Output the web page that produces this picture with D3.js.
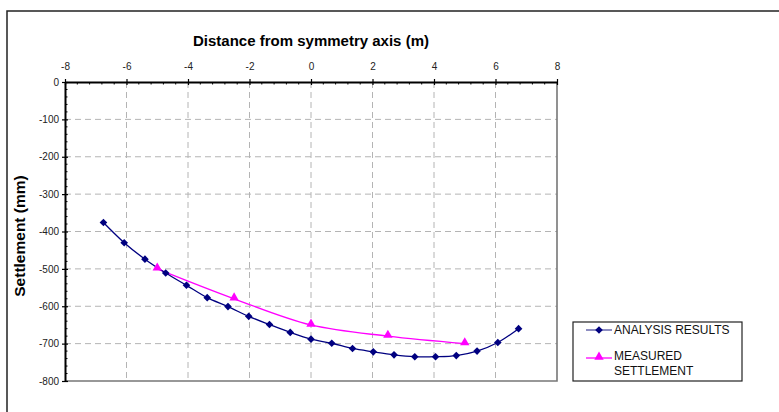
<!DOCTYPE html>
<html>
<head>
<meta charset="utf-8">
<script src="https://cdn.jsdelivr.net/npm/d3@7"></script>
<style>
  body { margin: 0; background: #fff; }
  svg { display: block; font-family: "Liberation Sans", Arial, sans-serif; }
</style>
</head>
<body>
<div id="chart"></div>
<script>
// analysis results (smoothed curve, diamonds)
var analysisX = [-6.75, -6.075, -5.4, -4.725, -4.05, -3.375, -2.7, -2.025, -1.35, -0.675, 0,
                 0.675, 1.35, 2.025, 2.7, 3.375, 4.05, 4.725, 5.4, 6.075, 6.75];
var analysisY = [-376, -430, -474, -511, -544, -577, -601, -627, -649, -670, -688,
                 -699, -713, -722, -730, -735, -735, -732, -720, -697, -660];
// measured settlement (triangles)
var measuredX = [-5, -2.5, 0, 2.5, 5];
var measuredY = [-500, -580, -650, -680, -700];

var xTicks = [-8, -6, -4, -2, 0, 2, 4, 6, 8];
var yTicks = [0, -100, -200, -300, -400, -500, -600, -700, -800];
var legendLabels = [["ANALYSIS RESULTS"], ["MEASURED", "SETTLEMENT"]];

var width = 779, height = 412;
var plotLeft = 65, plotRight = 557, plotTop = 82, plotBottom = 381;

var svg = d3.select("#chart").append("svg")
  .attr("width", width)
  .attr("height", height);

// outer chart border (runs off the page to the right and bottom)
svg.append("rect")
  .attr("x", 7).attr("y", 11)
  .attr("width", 820).attr("height", 450)
  .attr("fill", "none").attr("stroke", "#222").attr("stroke-width", 1.5);

var x = d3.scaleLinear().domain([-8, 8]).range([plotLeft, plotRight]);
var y = d3.scaleLinear().domain([0, -800]).range([plotTop, plotBottom]);

// gridlines
var grid = svg.append("g").attr("class", "grid")
  .attr("stroke", "#b4b4b4").attr("stroke-dasharray", "6,4");
grid.selectAll("line.gx").data(xTicks.slice(1, -1)).enter().append("line")
  .attr("x1", function(d) { return x(d); }).attr("x2", function(d) { return x(d); })
  .attr("y1", plotTop).attr("y2", plotBottom);
grid.selectAll("line.gy").data(yTicks.slice(1, -1)).enter().append("line")
  .attr("y1", function(d) { return y(d); }).attr("y2", function(d) { return y(d); })
  .attr("x1", plotLeft).attr("x2", plotRight);

// right + bottom plot frame (grey)
svg.append("path")
  .attr("d", "M" + plotRight + "," + plotTop + "V" + plotBottom + "H" + plotLeft)
  .attr("fill", "none").attr("stroke", "#777").attr("stroke-width", 1.6);

// minor ticks
var minorX = d3.range(-8, 8.01, 0.4).filter(function(v) { return Math.abs(v / 2 - Math.round(v / 2)) > 0.01; });
svg.append("g").selectAll("line").data(minorX).enter().append("line")
  .attr("x1", function(d) { return x(d); }).attr("x2", function(d) { return x(d); })
  .attr("y1", plotTop).attr("y2", plotTop + 2.5)
  .attr("stroke", "#000");
var minorY = d3.range(0, -801, -20).filter(function(v) { return v % 100 !== 0; });
svg.append("g").selectAll("line").data(minorY).enter().append("line")
  .attr("y1", function(d) { return y(d); }).attr("y2", function(d) { return y(d); })
  .attr("x1", plotLeft).attr("x2", plotLeft + 2.5)
  .attr("stroke", "#000");

// axes (plain hyphen for negatives, like the original)
var fmt = function(d) { return String(d); };
var xAxis = svg.append("g")
  .attr("transform", "translate(0," + plotTop + ")")
  .call(d3.axisTop(x).tickValues(xTicks).tickFormat(fmt).tickSize(3).tickSizeOuter(0));
var yAxis = svg.append("g")
  .attr("transform", "translate(" + plotLeft + ",0)")
  .call(d3.axisLeft(y).tickValues(yTicks).tickFormat(fmt).tickSize(3).tickSizeOuter(0));

[xAxis, yAxis].forEach(function(a) {
  a.select(".domain").attr("stroke", "#000").attr("stroke-width", 2);
  a.selectAll(".tick line").attr("stroke", "#000").attr("stroke-width", 1.2);
  a.selectAll(".tick text").attr("fill", "#222")
    .style("font-family", "'Liberation Sans', Arial, sans-serif").style("font-size", "10px");
});
xAxis.selectAll(".tick text").attr("y", -12);
xAxis.selectAll(".tick line").attr("y2", 3).attr("y1", -3);
yAxis.selectAll(".tick text").attr("x", -6);
yAxis.selectAll(".tick line").attr("x1", -3).attr("x2", 3);

// titles
svg.append("text")
  .attr("x", 311).attr("y", 46)
  .attr("text-anchor", "middle")
  .style("font-size", "15px").style("font-weight", "bold")
  .text("Distance from symmetry axis (m)");
svg.append("text")
  .attr("transform", "translate(25,236) rotate(-90)")
  .attr("text-anchor", "middle")
  .style("font-size", "15.5px").style("font-weight", "bold")
  .text("Settlement (mm)");

// series
var analysis = analysisX.map(function(v, i) { return [v, analysisY[i]]; });
var measured = measuredX.map(function(v, i) { return [v, measuredY[i]]; });

var line = d3.line()
  .x(function(d) { return x(d[0]); })
  .y(function(d) { return y(d[1]); })
  .curve(d3.curveCatmullRom.alpha(0.5));

var navy = "#000080", magenta = "#ff00ff";
var diamond = "M0,-3.8L3.8,0L0,3.8L-3.8,0Z";
var triangle = d3.symbol().type(d3.symbolTriangle).size(38)();

svg.append("path").datum(measured)
  .attr("d", line).attr("fill", "none").attr("stroke", magenta).attr("stroke-width", 1.3);
svg.append("path").datum(analysis)
  .attr("d", line).attr("fill", "none").attr("stroke", navy).attr("stroke-width", 1.3);

svg.append("g").selectAll("path").data(analysis).enter().append("path")
  .attr("d", diamond)
  .attr("transform", function(d) { return "translate(" + x(d[0]) + "," + y(d[1]) + ")"; })
  .attr("fill", navy);
svg.append("g").selectAll("path").data(measured).enter().append("path")
  .attr("d", triangle)
  .attr("transform", function(d) { return "translate(" + x(d[0]) + "," + (y(d[1]) - 1) + ")"; })
  .attr("fill", magenta);

// legend
var legend = svg.append("g");
legend.append("rect")
  .attr("x", 573).attr("y", 322).attr("width", 169).attr("height", 59)
  .attr("fill", "#fff").attr("stroke", "#222").attr("stroke-width", 1.2);

var rows = [
  { color: "#5050a0", sym: diamond, fill: navy, y: 330 },
  { color: magenta, sym: triangle, fill: magenta, y: 358 }
];
rows.forEach(function(r, i) {
  legend.append("line")
    .attr("x1", 586).attr("x2", 612).attr("y1", r.y).attr("y2", r.y)
    .attr("stroke", r.color).attr("stroke-width", 1.3);
  legend.append("path").attr("d", r.sym)
    .attr("transform", "translate(599," + (r.y - (i ? 1 : 0)) + ")")
    .attr("fill", r.fill);
  var t = legend.append("text")
    .attr("x", 614).attr("y", (i ? r.y - 2 : r.y) + 4.3)
    .style("font-size", "12px").attr("fill", "#111");
  legendLabels[i].forEach(function(s, j) {
    t.append("tspan").attr("x", 614).attr("dy", j ? 14.7 : 0).text(s);
  });
});
</script>
</body>
</html>
